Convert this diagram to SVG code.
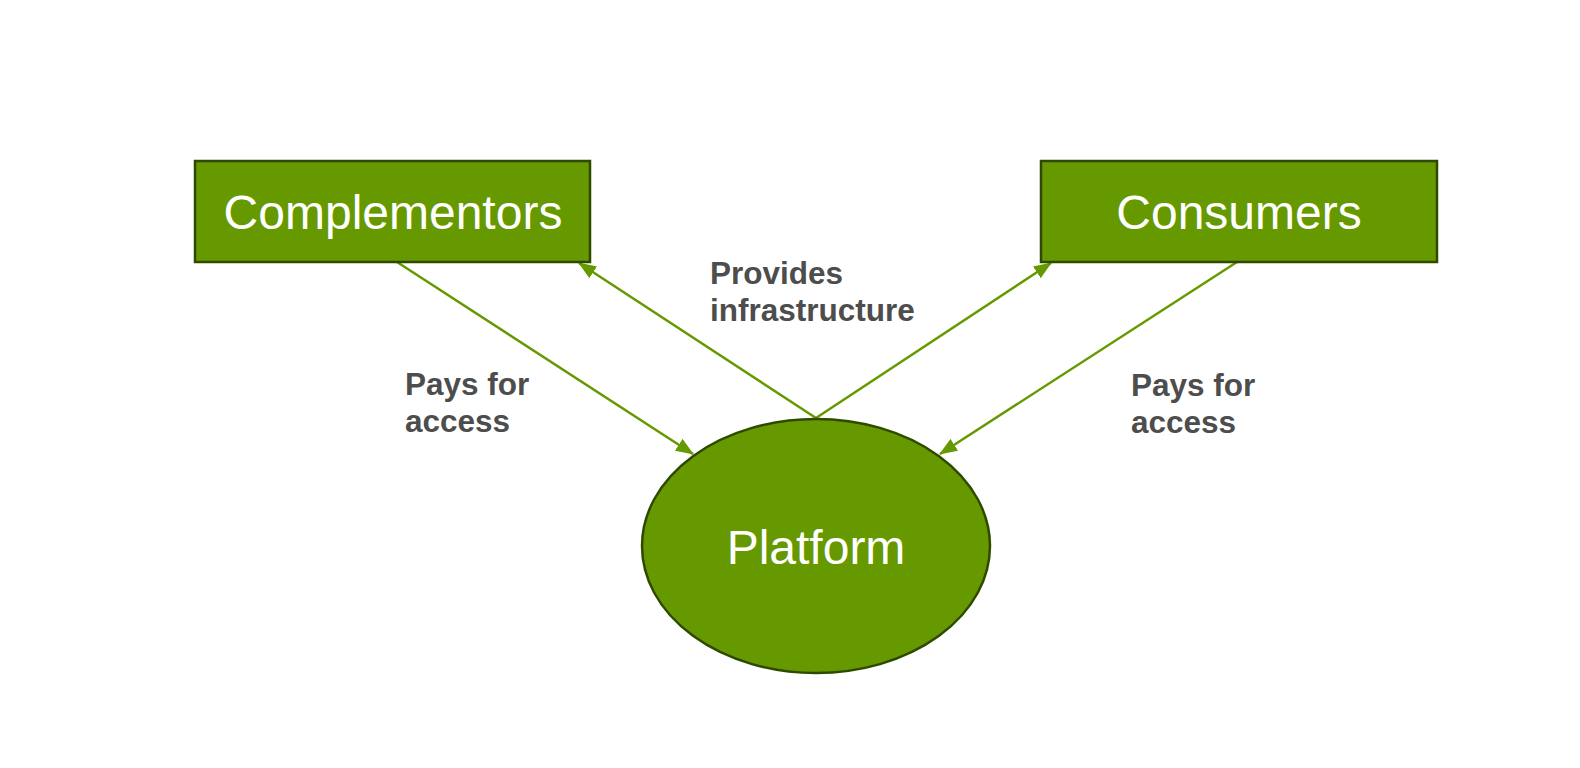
<svg xmlns="http://www.w3.org/2000/svg" width="1580" height="768" viewBox="0 0 1580 768">
  <style>
    .node { fill: #669900; stroke: #2e4a00; stroke-width: 2.5; }
    .nlabel { font-family: "Liberation Sans", Arial, sans-serif; font-size: 48px; fill: #ffffff; text-anchor: middle; }
    .elabel { font-family: "Liberation Sans", Arial, sans-serif; font-size: 31.5px; font-weight: bold; fill: #4d4d4d; }
    .conn { stroke: #669900; stroke-width: 2.5; fill: none; marker-end: url(#arrow); }
  </style>
  <defs>
    <marker id="arrow" markerUnits="userSpaceOnUse" viewBox="0 0 18 14" markerWidth="18" markerHeight="14" refX="17" refY="7" orient="auto">
      <path d="M0,0 L18,7 L0,14 z" fill="#669900"/>
    </marker>
  </defs>
  <rect width="1580" height="768" fill="#ffffff"/>
  <g id="connectors">
    <line class="conn" x1="397" y1="262" x2="693" y2="454"/>
    <line class="conn" x1="816" y1="418" x2="579" y2="263"/>
    <line class="conn" x1="816" y1="418" x2="1051" y2="263"/>
    <line class="conn" x1="1237" y1="262" x2="940" y2="454"/>
  </g>
  <g id="complementors">
    <rect class="node" x="195" y="161" width="395" height="101"/>
    <text class="nlabel" x="393" y="229">Complementors</text>
  </g>
  <g id="consumers">
    <rect class="node" x="1041" y="161" width="396" height="101"/>
    <text class="nlabel" x="1239" y="229">Consumers</text>
  </g>
  <g id="platform">
    <ellipse class="node" cx="816" cy="546" rx="174" ry="127"/>
    <text class="nlabel" x="816" y="564">Platform</text>
  </g>
  <g id="labels">
    <text class="elabel" x="710" y="284">Provides</text>
    <text class="elabel" x="710" y="321">infrastructure</text>
    <text class="elabel" x="405" y="395">Pays for</text>
    <text class="elabel" x="405" y="432">access</text>
    <text class="elabel" x="1131" y="396">Pays for</text>
    <text class="elabel" x="1131" y="433">access</text>
  </g>
</svg>
